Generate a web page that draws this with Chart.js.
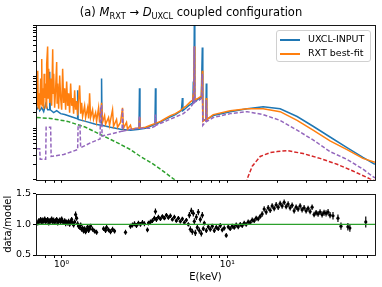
<!DOCTYPE html>
<html>
<head>
<meta charset="utf-8">
<script src="https://cdn.jsdelivr.net/npm/chart.js@4.4.0/dist/chart.umd.min.js"></script>
<style>
  body { margin: 0; background: #fff; }
  #wrap { position: relative; width: 382px; height: 287px; overflow: hidden; font-family: "DejaVu Sans", sans-serif; color: #000; }
  canvas { position: absolute; left: 0; }
  #top { top: 0; }
  #bottom { top: 186px; }
  #title { position: absolute; left: 0; top: 4px; width: 382px; text-align: center; font-size: 11.5px; line-height: 16px; white-space: nowrap; }
  #title .sub { font-size: 0.72em; position: relative; top: 0.35em; }
  #legend { position: absolute; left: 276px; top: 30px; width: 95px; box-sizing: border-box; padding: 1px 0; border: 1px solid #d0d0d0; border-radius: 3px; background: rgba(255,255,255,0.8); font-size: 9.5px; }
  #legend .row { height: 14px; line-height: 14px; white-space: nowrap; }
  #legend .swatch { display: inline-block; width: 20px; height: 2px; margin: 0 8px 0 3px; vertical-align: middle; }
</style>
</head>
<body>
<div id="wrap">
  <canvas id="top" width="382" height="190"></canvas>
  <canvas id="bottom" width="382" height="101"></canvas>
  <div id="title">(a) <i>M</i><span class="sub">RXT</span> → <i>D</i><span class="sub">UXCL</span> coupled configuration</div>
  <div id="legend">
    <div class="row"><span class="swatch" style="background:#1f77b4"></span>UXCL-INPUT</div>
    <div class="row"><span class="swatch" style="background:#ff7f0e"></span>RXT best-fit</div>
  </div>
</div>
<script>
// energy range (keV) and tick positions
const xMin = 0.707, xMax = 78;
const xTicks = [0.8, 0.9, 1, 2, 3, 4, 5, 6, 7, 8, 9, 10, 20, 30, 40, 50, 60, 70];
const xMajorTicks = [1, 10];
const xTickLabels = ['10⁰', '10¹'];
const fluxTicks = [1, 2, 3, 4, 5, 6, 7, 8, 9, 10, 20, 30, 40, 50, 60, 70, 80, 90, 100, 200, 300, 400, 500, 600, 700, 800, 900, 1000];
const ratioTicks = [0.5, 1.0, 1.5];

// UXCL-INPUT spectrum
const blueE = [0.707,0.727,0.737,0.758,0.779,0.801,0.823,0.841,0.847,0.853,0.895,0.933,0.986,1.043,1.133,1.231,1.240,1.249,1.257,1.395,1.603,1.730,1.742,1.754,1.973,2.267,2.604,2.930,2.951,2.971,3.207,3.437,3.659,3.685,3.711,4.233,4.862,5.285,5.358,5.396,5.822,6.196,6.239,6.282,6.326,6.370,6.687,6.972,7.020,7.069,7.118,7.420,7.472,7.524,8.234,10.42,13.20,16.48,20.86,26.41,32.97,41.74,52.84,65.97,77.93];
const blueFlux = [22.81,27.13,21.84,24.88,20.91,29.59,22.81,22.81,124.2,22.81,20.03,21.84,19.17,18.36,16.83,15.43,15.43,54.34,14.78,13.55,11.90,11.39,91.47,11.39,10.44,9.558,9.152,9.558,59.26,9.558,10.00,10.91,11.90,59.26,11.90,14.78,18.36,21.84,38.40,21.84,27.13,30.91,80.30,32.28,1242,32.28,36.77,40.10,40.10,367.6,14.15,14.78,73.63,14.78,17.58,20.91,23.82,25.98,23.82,16.83,10.91,6.754,4.189,2.714,2.003];

// RXT best-fit spectrum
const orangeE = [0.707,0.717,0.722,0.727,0.737,0.747,0.752,0.758,0.763,0.768,0.779,0.784,0.790,0.801,0.806,0.812,0.823,0.829,0.835,0.847,0.858,0.870,0.883,0.889,0.895,0.907,0.920,0.933,0.939,0.946,0.959,0.973,0.986,1.000,1.014,1.028,1.043,1.057,1.072,1.087,1.102,1.117,1.133,1.149,1.165,1.181,1.198,1.214,1.231,1.249,1.266,1.284,1.302,1.320,1.338,1.376,1.395,1.435,1.455,1.475,1.495,1.537,1.558,1.603,1.625,1.671,1.694,1.742,1.766,1.816,1.841,1.919,1.946,2.029,2.057,2.145,2.175,2.267,2.331,2.363,2.464,2.498,2.604,2.640,2.791,2.930,2.951,2.971,3.207,3.437,3.685,3.949,4.233,4.537,4.862,5.212,5.433,5.664,5.985,6.196,6.239,6.282,6.326,6.370,6.687,6.972,7.020,7.069,7.118,7.420,7.472,7.524,8.234,10.42,13.20,16.48,20.86,26.41,32.97,41.74,52.84,65.97,77.93];
const orangeFlux = [27.13,129.7,24.88,47.70,22.81,91.47,29.59,218.4,27.13,59.26,23.82,113.9,38.40,73.63,24.88,175.8,383.9,38.40,141.5,30.91,91.47,27.13,337.1,47.70,113.9,24.88,59.26,191.8,30.91,73.63,23.82,104.4,38.40,22.81,141.5,30.91,59.26,22.81,80.30,27.13,47.70,20.03,73.63,27.13,38.40,19.17,54.34,22.81,33.71,17.58,38.40,67.51,19.17,30.91,16.83,27.13,16.12,24.88,15.43,47.70,16.12,22.81,14.78,20.03,13.55,24.88,12.97,30.91,12.97,17.58,11.90,16.12,11.39,22.81,10.91,14.78,10.44,12.97,24.88,10.00,12.97,9.558,11.39,9.558,10.00,10.00,16.12,10.00,10.44,11.39,12.42,13.55,15.43,17.58,19.17,21.84,24.88,27.13,32.28,35.21,47.70,35.21,383.9,35.21,38.40,41.88,41.88,129.7,13.55,14.78,38.40,14.78,18.36,21.84,23.82,23.82,20.91,14.15,9.152,5.677,3.841,2.599,2.184];

// model components
const purpleE = [0.707,0.737,0.742,0.801,0.806,0.858,0.864,1.028,1.249,1.257,1.290,1.302,1.495,1.706,1.718,1.742,1.754,1.973,2.315,2.331,2.347,2.604,2.930,2.951,2.971,3.437,3.659,3.685,3.711,4.351,5.433,5.985,6.196,6.239,6.282,6.326,6.370,6.781,7.020,7.069,7.118,7.420,7.472,7.524,8.234,10.42,13.20,16.48,20.86,26.41,32.97,41.74,52.84,65.97,74.71,77.93];
const purpleFlux = [4.011,4.011,2.488,2.488,10.44,10.44,2.834,3.091,3.841,11.39,11.39,4.189,5.205,6.192,27.13,27.13,7.053,7.693,8.763,23.82,8.763,9.558,10.00,17.58,10.00,10.00,10.91,18.36,11.39,14.15,19.17,24.88,29.59,38.40,29.59,383.9,32.28,35.21,38.40,113.9,11.39,13.55,35.21,13.55,16.12,19.17,20.91,18.36,14.15,9.152,5.929,3.521,2.488,1.612,1.190,1.091];
const greenE = [0.707,0.858,1.087,1.395,1.742,2.175,2.604,2.992,3.437,3.949,4.728,5.585];
const greenFlux = [16.12,15.43,13.55,10.44,7.366,5.205,3.841,2.834,2.184,1.612,1.044,0.706];
const redE = [12.66,13.20,14.15,15.81,18.16,20.01,22.98,28.70,36.33,46.00,57.42,72.66,77.93];
const redFlux = [0.499,1.044,1.836,2.834,3.372,3.521,3.678,3.229,2.599,2.003,1.478,1.044,0.958];

// data/model residuals
const ratioE = [0.717,0.727,0.737,0.747,0.758,0.768,0.779,0.790,0.801,0.812,0.823,0.835,0.847,0.858,0.870,0.883,0.895,0.907,0.920,0.933,0.946,0.959,0.973,0.986,1.000,1.014,1.028,1.043,1.057,1.072,1.087,1.102,1.117,1.133,1.149,1.165,1.181,1.198,1.214,1.231,1.249,1.266,1.284,1.302,1.320,1.338,1.357,1.376,1.395,1.415,1.435,1.455,1.475,1.495,1.537,1.580,1.625,1.791,1.841,1.867,1.919,1.973,2.029,2.086,2.430,2.604,2.677,2.753,2.830,2.910,2.992,3.076,3.162,3.297,3.343,3.437,3.533,3.633,3.685,3.735,3.840,3.949,4.060,4.174,4.291,4.412,4.537,4.664,4.796,4.930,5.069,5.212,5.358,5.509,5.664,5.822,5.904,5.985,6.069,6.153,6.239,6.326,6.415,6.505,6.595,6.687,6.781,6.876,6.972,7.069,7.168,7.268,7.472,7.683,7.899,8.121,8.350,8.585,8.826,9.076,9.330,9.593,9.863,10.14,10.42,10.72,11.02,11.33,11.65,11.98,12.31,12.66,13.01,13.38,13.76,14.15,14.54,14.95,15.38,15.81,16.25,16.71,17.18,17.67,18.16,18.67,19.20,19.74,20.30,20.86,21.45,22.06,22.68,23.31,23.97,24.64,25.34,26.05,26.78,27.54,28.31,29.11,29.93,30.77,31.64,32.53,33.44,34.39,35.35,36.35,37.37,38.42,39.50,40.61,41.75,43.5,46.6,48.6,53.5,55.0,68.6];
const ratioVal = [1.02,1.06,1.05,1.08,1.03,1.07,1.05,1.09,1.04,1.06,1.08,1.02,1.06,1.05,1.09,1.04,1.07,1.03,1.06,1.08,1.02,1.05,1.07,1.04,1.09,1.05,1.03,1.06,1.01,1.04,1.02,1.05,1.00,1.03,1.08,1.02,0.99,1.04,1.16,1.10,1.01,0.97,0.95,0.99,0.92,0.94,0.89,0.93,0.88,0.91,0.96,0.90,0.93,0.97,0.92,0.89,0.87,0.93,0.90,0.95,0.91,0.88,0.92,0.89,0.87,0.97,0.99,1.01,0.98,1.02,1.00,1.03,1.01,0.91,1.02,1.04,1.06,1.10,1.21,1.08,1.12,1.09,1.13,1.10,1.15,1.11,1.14,1.08,1.12,1.06,1.10,1.05,1.09,1.03,1.07,1.00,1.15,0.92,1.22,0.88,1.18,1.05,0.86,1.12,0.95,1.20,0.90,1.08,0.85,1.15,0.93,1.02,0.90,0.96,0.92,0.97,0.90,0.95,0.93,0.98,0.91,0.94,0.82,0.96,0.93,0.97,0.95,0.99,0.96,1.00,0.98,1.02,1.00,1.04,1.03,1.07,1.06,1.10,1.09,1.13,1.17,1.25,1.20,1.27,1.23,1.30,1.26,1.32,1.28,1.34,1.30,1.36,1.29,1.33,1.27,1.31,1.22,1.28,1.25,1.30,1.24,1.27,1.22,1.26,1.21,1.28,1.16,1.19,1.17,1.20,1.16,1.19,1.18,1.20,1.15,1.14,1.10,0.97,0.96,0.94,1.04];
const ratioErr = [0.04,0.04,0.04,0.04,0.04,0.04,0.04,0.04,0.04,0.04,0.04,0.04,0.04,0.04,0.04,0.04,0.04,0.04,0.04,0.04,0.04,0.04,0.04,0.04,0.04,0.04,0.04,0.04,0.04,0.04,0.04,0.04,0.04,0.04,0.04,0.04,0.04,0.04,0.05,0.04,0.04,0.04,0.04,0.04,0.04,0.04,0.04,0.04,0.04,0.04,0.04,0.04,0.04,0.04,0.04,0.04,0.04,0.04,0.04,0.04,0.04,0.04,0.04,0.04,0.04,0.04,0.04,0.04,0.04,0.04,0.04,0.04,0.04,0.04,0.04,0.04,0.04,0.04,0.05,0.04,0.035,0.035,0.035,0.035,0.035,0.035,0.035,0.035,0.035,0.035,0.035,0.035,0.035,0.035,0.035,0.035,0.05,0.05,0.05,0.05,0.05,0.05,0.05,0.05,0.05,0.05,0.05,0.05,0.05,0.05,0.04,0.04,0.04,0.04,0.04,0.04,0.04,0.04,0.04,0.04,0.04,0.04,0.04,0.04,0.04,0.04,0.04,0.04,0.04,0.04,0.04,0.04,0.04,0.04,0.04,0.04,0.04,0.04,0.04,0.04,0.045,0.045,0.045,0.045,0.045,0.045,0.045,0.045,0.045,0.045,0.045,0.045,0.045,0.045,0.045,0.045,0.045,0.045,0.045,0.045,0.045,0.045,0.045,0.045,0.045,0.045,0.045,0.045,0.045,0.045,0.05,0.05,0.05,0.05,0.05,0.06,0.06,0.06,0.06,0.06,0.09];
const unityE = [xMin, xMax];
const unityVal = [1, 1];

Chart.defaults.font.family = "'DejaVu Sans', sans-serif";
Chart.defaults.color = '#000';

function pairs(xs, ys) {
    return xs.map((x, i) => ({ x: x, y: ys[i] }));
}

function lineSet(label, xs, ys, color, dash) {
    return {
        label,
        data: pairs(xs, ys),
        borderColor: color,
        borderWidth: 1.5,
        borderDash: dash || [],
        pointRadius: 0,
        tension: 0,
        fill: false,
    };
}

// axes box drawn on all four sides, like matplotlib
const frame = {
    id: 'frame',
    afterDraw(chart) {
        const { ctx, chartArea: a } = chart;
        ctx.save();
        ctx.strokeStyle = '#000';
        ctx.lineWidth = 0.9;
        const l = Math.round(a.left) + 0.5, t = Math.round(a.top) + 0.5;
        ctx.strokeRect(l, t, Math.round(a.right) - Math.round(a.left), Math.round(a.bottom) - Math.round(a.top));
        ctx.restore();
    },
};

function logX(labelled) {
    return {
        type: 'logarithmic',
        min: xMin,
        max: xMax,
        afterBuildTicks: (s) => { s.ticks = xTicks.map(v => ({ value: v, major: xMajorTicks.includes(v) })); },
        ticks: {
            autoSkip: false,
            maxRotation: 0,
            padding: 1,
            font: { size: 9 },
            callback: (v) => {
                const i = xMajorTicks.indexOf(v);
                return labelled && i >= 0 ? xTickLabels[i] : '';
            },
        },
        grid: { drawOnChartArea: false, tickLength: 3, color: '#000' },
        border: { display: false },
    };
}

// spectrum panel
const topX = logX(false);
topX.afterFit = (s) => { s.height = 6; };

new Chart(document.getElementById('top'), {
    type: 'line',
    data: {
        datasets: [
            lineSet('component', purpleE, purpleFlux, '#9467bd', [4, 2]),
            lineSet('hot component', redE, redFlux, '#d62728', [4, 2]),
            lineSet('soft component', greenE, greenFlux, '#2ca02c', [4, 2]),
            lineSet('RXT best-fit', orangeE, orangeFlux, '#ff7f0e'),
            lineSet('UXCL-INPUT', blueE, blueFlux, '#1f77b4'),
        ],
    },
    options: {
        responsive: false,
        animation: false,
        events: [],
        layout: { padding: { left: 0, right: 7, top: 25, bottom: 0 } },
        scales: {
            x: topX,
            y: {
                type: 'logarithmic',
                min: 1,
                max: 1000,
                afterBuildTicks: (s) => { s.ticks = fluxTicks.map(v => ({ value: v })); },
                afterFit: (s) => { s.width = 36; },
                ticks: { autoSkip: false, callback: () => '' },
                grid: { drawOnChartArea: false, tickLength: 3, color: '#000' },
                border: { display: false },
            },
        },
        plugins: { legend: { display: false }, tooltip: { enabled: false } },
    },
    plugins: [frame],
});

// residual panel
const errSegments = [];
ratioE.forEach((e, i) => {
    errSegments.push({ x: e, y: ratioVal[i] - ratioErr[i] });
    errSegments.push({ x: e, y: ratioVal[i] + ratioErr[i] });
    errSegments.push({ x: e, y: null });
});

const botX = logX(true);
botX.afterFit = (s) => { s.height = 32; };
botX.title = { display: true, text: 'E(keV)', font: { size: 10 }, padding: { top: 0, bottom: 4 } };

new Chart(document.getElementById('bottom'), {
    type: 'line',
    data: {
        datasets: [
            {
                label: 'model',
                data: pairs(unityE, unityVal),
                borderColor: '#2ca02c',
                borderWidth: 1.3,
                pointRadius: 0,
            },
            {
                label: 'data',
                data: pairs(ratioE, ratioVal),
                showLine: false,
                pointRadius: 1.6,
                pointBorderWidth: 0,
                pointBackgroundColor: '#000',
            },
            {
                label: 'errors',
                data: errSegments,
                borderColor: '#000',
                borderWidth: 1.2,
                pointRadius: 0,
                spanGaps: false,
            },
        ],
    },
    options: {
        responsive: false,
        animation: false,
        events: [],
        layout: { padding: { left: 0, right: 7, top: 5, bottom: 0 } },
        scales: {
            x: botX,
            y: {
                type: 'linear',
                min: 0.5,
                max: 1.5,
                afterBuildTicks: (s) => { s.ticks = ratioTicks.map(v => ({ value: v })); },
                afterFit: (s) => { s.width = 36; },
                ticks: { font: { size: 9.5 }, padding: 2, callback: (v) => v.toFixed(1) },
                grid: { drawOnChartArea: false, tickLength: 3, color: '#000' },
                border: { display: false },
                title: { display: true, text: 'data/model', font: { size: 10 }, padding: { top: 2, bottom: 0 } },
            },
        },
        plugins: { legend: { display: false }, tooltip: { enabled: false } },
    },
    plugins: [frame],
});
</script>
</body>
</html>
